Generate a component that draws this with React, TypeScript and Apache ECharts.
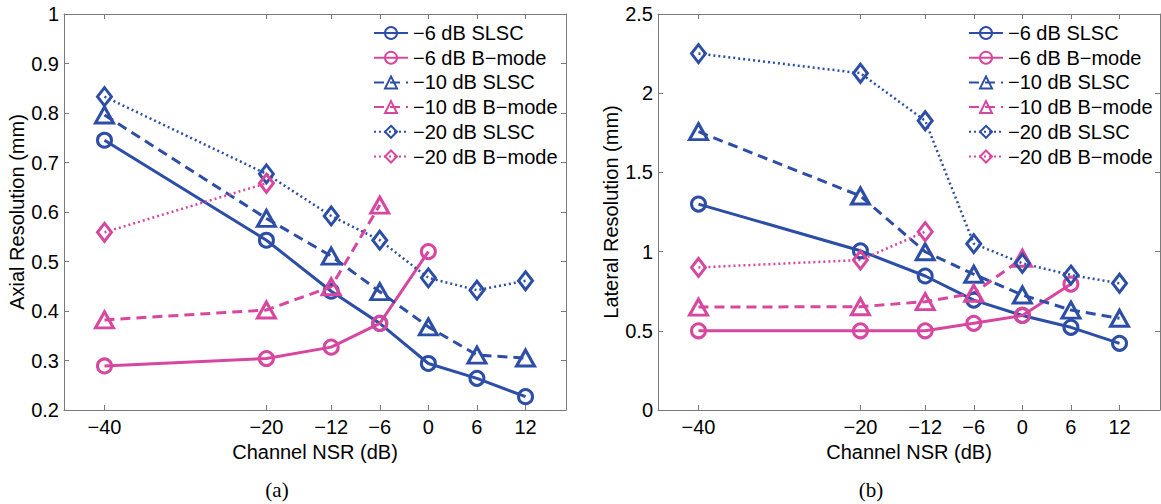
import React, { useEffect, useRef } from "react";
import * as echarts from "echarts";

const nsr = [-40, -20, -12, -6, 0, 6, 12];
const seriesNames = [
  "\u22126 dB SLSC",
  "\u22126 dB B\u2212mode",
  "\u221210 dB SLSC",
  "\u221210 dB B\u2212mode",
  "\u221220 dB SLSC",
  "\u221220 dB B\u2212mode",
];

// (a) Axial resolution (mm)
const axialSlsc6 = [0.745, 0.543, 0.44, 0.375, 0.294, 0.264, 0.227];
const axialBmode6 = [0.289, 0.304, 0.327, 0.375, 0.52];
const axialSlsc10 = [0.796, 0.587, 0.511, 0.439, 0.368, 0.311, 0.305];
const axialBmode10 = [0.382, 0.402, 0.449, 0.614];
const axialSlsc20 = [0.833, 0.677, 0.592, 0.543, 0.467, 0.442, 0.461];
const axialBmode20 = [0.559, 0.658];

// (b) Lateral resolution (mm)
const latSlsc6 = [1.3, 1.005, 0.846, 0.694, 0.597, 0.522, 0.421];
const latBmode6 = [0.5, 0.5, 0.5, 0.547, 0.597, 0.795];
const latSlsc10 = [1.757, 1.351, 0.999, 0.857, 0.726, 0.631, 0.579];
const latBmode10 = [0.65, 0.652, 0.684, 0.737, 0.958];
const latSlsc20 = [2.25, 2.126, 1.826, 1.05, 0.926, 0.852, 0.8];
const latBmode20 = [0.9, 0.947, 1.126];

const BLUE = "#2d4ea6";
const PINK = "#d8479f";
const AXIS = "#7a7a7a";
const FONT = '"Liberation Sans", Arial, Helvetica, sans-serif';
const FS = 20;

const fmtNum = (v: number) => (v < 0 ? "\u2212" + Math.abs(v) : String(v));

function pairs(vals: number[]) {
  return vals.map((v, i) => [nsr[i], v]);
}

const styles = [
  { color: BLUE, type: "solid", width: 3, symbol: "circle", size: 14 },
  { color: PINK, type: "solid", width: 3, symbol: "circle", size: 14 },
  { color: BLUE, type: [10, 6], width: 3, symbol: "triangle", size: [18, 16] },
  { color: PINK, type: [10, 6], width: 3, symbol: "triangle", size: [18, 16] },
  { color: BLUE, type: [2, 3], width: 2.5, symbol: "diamond", size: [14, 18] },
  { color: PINK, type: [2, 3], width: 2.5, symbol: "diamond", size: [14, 18] },
];

function makeSeries(sets: number[][], axisIndex: number) {
  return sets.map((vals, i) => {
    const s = styles[i];
    return {
      type: "line",
      name: seriesNames[i],
      xAxisIndex: axisIndex,
      yAxisIndex: axisIndex,
      data: pairs(vals),
      symbol: s.symbol,
      symbolSize: s.size,
      showAllSymbol: true,
      lineStyle: { color: s.color, width: s.width, type: s.type },
      itemStyle: { color: "transparent", borderColor: s.color, borderWidth: 3 },
      emphasis: { disabled: true },
    };
  });
}

function bottomX(gridIndex: number) {
  return {
    type: "value",
    gridIndex,
    position: "bottom",
    min: -45,
    max: 17,
    name: "Channel NSR (dB)",
    nameLocation: "middle",
    nameGap: 27,
    nameTextStyle: { fontSize: FS, fontFamily: FONT, color: "#000" },
    axisLine: { show: true, onZero: false, lineStyle: { color: AXIS, width: 1 } },
    axisTick: { show: true, inside: true, length: 5, customValues: nsr, lineStyle: { color: AXIS } },
    axisLabel: {
      show: true,
      customValues: nsr,
      margin: 7,
      fontSize: FS,
      fontFamily: FONT,
      color: "#000",
      formatter: (v: number) => fmtNum(v),
    },
    splitLine: { show: false },
  };
}

function topX(gridIndex: number) {
  return {
    type: "value",
    gridIndex,
    position: "top",
    min: -45,
    max: 17,
    axisLine: { show: true, onZero: false, lineStyle: { color: AXIS, width: 1 } },
    axisTick: { show: true, inside: true, length: 5, customValues: nsr, lineStyle: { color: AXIS } },
    axisLabel: { show: false },
    splitLine: { show: false },
  };
}

function leftY(gridIndex: number, min: number, max: number, interval: number, name: string) {
  return {
    type: "value",
    gridIndex,
    position: "left",
    min,
    max,
    interval,
    name,
    nameLocation: "middle",
    nameGap: 36,
    nameTextStyle: { fontSize: FS, fontFamily: FONT, color: "#000" },
    axisLine: { show: true, onZero: false, lineStyle: { color: AXIS, width: 1 } },
    axisTick: { show: true, inside: true, length: 5, lineStyle: { color: AXIS } },
    axisLabel: {
      show: true,
      margin: 5,
      fontSize: FS,
      fontFamily: FONT,
      color: "#000",
      formatter: (v: number) => String(Math.round(v * 10) / 10),
    },
    splitLine: { show: false },
  };
}

function rightY(gridIndex: number, min: number, max: number, interval: number) {
  return {
    type: "value",
    gridIndex,
    position: "right",
    min,
    max,
    interval,
    axisLine: { show: true, onZero: false, lineStyle: { color: AXIS, width: 1 } },
    axisTick: { show: true, inside: true, length: 5, lineStyle: { color: AXIS } },
    axisLabel: { show: false },
    splitLine: { show: false },
  };
}

function legendAt(left: number) {
  return {
    orient: "vertical",
    left,
    top: 23,
    padding: 0,
    itemWidth: 34,
    itemHeight: 15,
    itemGap: 4.7,
    selectedMode: false,
    data: seriesNames,
    textStyle: { fontSize: FS, lineHeight: 20, fontFamily: FONT, color: "#000" },
  };
}

export default function App() {
  const ref = useRef<HTMLDivElement>(null);
  useEffect(() => {
    if (!ref.current) return;
    const chart = echarts.init(ref.current, undefined, { renderer: "svg" });
    const serif = '"Liberation Serif", "Times New Roman", serif';
    const option: any = {
      animation: false,
      backgroundColor: "#fff",
      grid: [
        { left: 64, top: 14, width: 502, height: 396 },
        { left: 658, top: 14, width: 502, height: 396 },
      ],
      xAxis: [bottomX(0), bottomX(1), topX(0), topX(1)],
      yAxis: [
        leftY(0, 0.2, 1, 0.1, "Axial Resolution (mm)"),
        leftY(1, 0, 2.5, 0.5, "Lateral Resolution (mm)"),
        rightY(0, 0.2, 1, 0.1),
        rightY(1, 0, 2.5, 0.5),
      ],
      legend: [legendAt(373), legendAt(968)],
      series: [
        ...makeSeries([axialSlsc6, axialBmode6, axialSlsc10, axialBmode10, axialSlsc20, axialBmode20], 0),
        ...makeSeries([latSlsc6, latBmode6, latSlsc10, latBmode10, latSlsc20, latBmode20], 1),
      ],
      graphic: [
        {
          type: "text",
          x: 277,
          y: 490,
          style: { text: "(a)", fontSize: 21, fontFamily: serif, fill: "#000", align: "center", verticalAlign: "middle" },
        },
        {
          type: "text",
          x: 871,
          y: 490,
          style: { text: "(b)", fontSize: 21, fontFamily: serif, fill: "#000", align: "center", verticalAlign: "middle" },
        },
      ],
    };
    chart.setOption(option);
    return () => chart.dispose();
  }, []);
  return (
    <div
      ref={ref}
      style={{ position: "fixed", left: 0, top: 0, width: 1161, height: 504, background: "#fff" }}
    />
  );
}
